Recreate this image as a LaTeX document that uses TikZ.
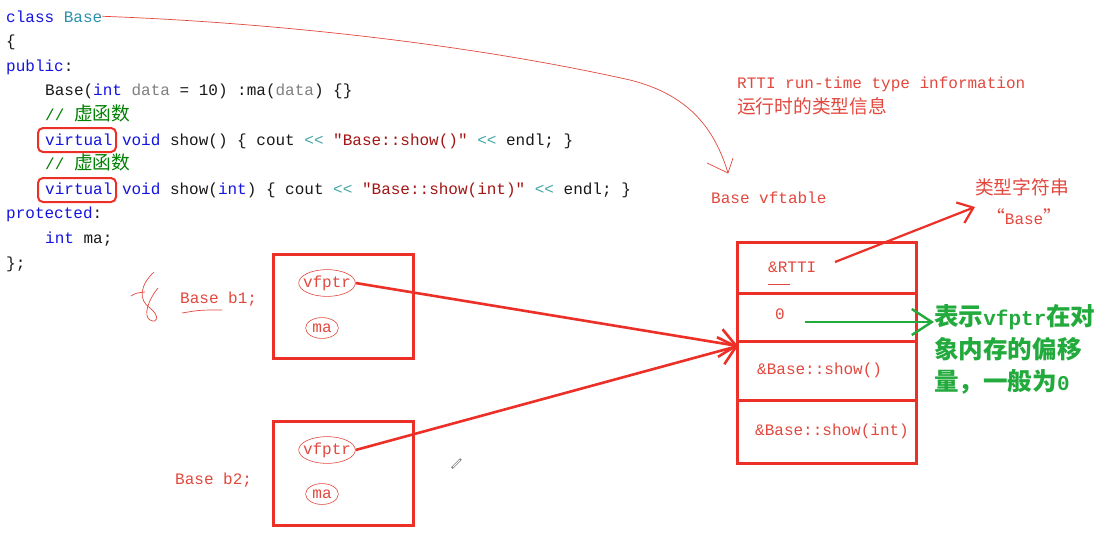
\documentclass[tikz,border=0pt]{standalone}
\usepackage{fontspec}
\setmonofont{Liberation Mono}
\newfontfamily\cjk[Scale=1.17]{Noto Sans CJK SC}
\usetikzlibrary{arrows.meta,shapes.geometric}
\definecolor{kwblue}{RGB}{20,20,225}
\definecolor{clsteal}{RGB}{43,145,175}
\definecolor{strred}{RGB}{163,21,21}
\definecolor{cmtgreen}{RGB}{0,128,0}
\definecolor{parmgray}{RGB}{128,128,128}
\definecolor{opteal}{RGB}{70,165,165}
\definecolor{codeblack}{RGB}{25,25,25}
\definecolor{handred}{RGB}{226,72,62}
\definecolor{boxred}{RGB}{236,48,40}
\definecolor{notegreen}{RGB}{34,170,60}
\newcommand\kw[1]{\textcolor{kwblue}{#1}}
\newcommand\st[1]{\textcolor{strred}{#1}}
\newcommand\op[1]{\textcolor{opteal}{#1}}
\newcommand\pg[1]{\textcolor{parmgray}{#1}}
\tikzset{
  code/.style={anchor=base west, inner sep=0pt, font=\fontsize{16}{19}\selectfont\ttfamily, text=codeblack},
  hand/.style={anchor=base west, inner sep=0pt, font=\fontsize{16}{19}\selectfont\ttfamily, text=handred},
  objbox/.style={draw=boxred, line width=3pt, minimum width=140pt, minimum height=104pt, inner sep=0pt},
  row/.style={draw=boxred, line width=3pt, minimum width=179pt, inner sep=0pt},
  oval/.style={ellipse, draw=handred, line width=0.6pt, inner xsep=-4pt, inner ysep=2pt, font=\fontsize{16}{19}\selectfont\ttfamily, text=handred},
  ptr/.style={draw=boxred, line width=2.6pt, -{Straight Barb[length=16pt,width=28pt,line width=2.6pt]}},
  thinhand/.style={draw=handred, line width=0.7pt},
  vbox/.style={draw=boxred, line width=2pt, rounded corners=5pt},
  note/.style={anchor=base west, inner sep=0pt, font=\fontsize{21}{24}\selectfont\ttfamily\bfseries, text=notegreen},
}
\begin{document}
\begin{tikzpicture}[x=1pt,y=-1pt]
\useasboundingbox (0,0) rectangle (1110,544);
\fill[white] (0,0) rectangle (1110,544);
% code
\node[code] (c0) at (6,22) {\kw{class} \textcolor{clsteal}{Base}};
\node[code] (c1) at (6,46.6) {\{};
\node[code] (c2) at (6,71.2) {\kw{public}:};
\node[code] (c3) at (45,95.8) {Base(\kw{int} \pg{data} = 10) :ma(\pg{data}) \{\}};
\node[code, text=cmtgreen] (c4) at (45,120.4) {// {\cjk 虚函数}};
\node[code] (c5) at (45,145) {\kw{virtual} \kw{void} show() \{ cout \op{<<} \st{"Base::show()"} \op{<<} endl; \}};
\node[code, text=cmtgreen] (c6) at (45,169.6) {// {\cjk 虚函数}};
\node[code] (c7) at (45,194.2) {\kw{virtual} \kw{void} show(\kw{int}) \{ cout \op{<<} \st{"Base::show(int)"} \op{<<} endl; \}};
\node[code] (c8) at (6,218.8) {\kw{protected}:};
\node[code] (c9) at (45,243.4) {\kw{int} ma;};
\node[code] (c10) at (6,268) {\};};
\draw[vbox] (38,128) rectangle (116,152);
\draw[vbox] (38,178) rectangle (116,202);
% annotations top right
\node[hand] (rtti) at (737,88) {RTTI run-time type information};
\node[hand] (rttic) at (737,113) {\cjk 运行时的类型信息};
\node[hand] (vftl) at (711,203) {Base vftable};
\node[hand] (tstr) at (975,194) {\cjk 类型字符串};
\node[hand] (tbase) at (986,224) {{\cjk “}Base{\cjk ”}};
% curved line from class Base
\coordinate (ctip) at (728,173);
\draw[thinhand] (c0.east) .. controls (260,22) and (460,42) .. (630,80) .. controls (690,95) and (715,130) .. (ctip);
\draw[thinhand] (707,163) -- (ctip) -- (733,158);
% objects
\node[objbox] (b1) at (343,306) {};
\node[oval] (p1) at (327,283) {vfptr};
\node[oval, inner xsep=2pt, inner ysep=3pt] (m1) at (322,328) {ma};
\node[hand] (lb1) at (180,303) {Base b1;};
\draw[thinhand] (182,313) .. controls (200,310) .. (222,310);
\draw[thinhand] (131,296) .. controls (136,293) .. (145,292);
\draw[thinhand] (154,272) .. controls (140,285) and (138,300) .. (150,308) .. controls (160,316) and (158,324) .. (150,320) .. controls (143,316) and (148,300) .. (158,288);
\node[objbox] (b2) at (343,473) {};
\node[oval] (p2) at (327,450) {vfptr};
\node[oval, inner xsep=2pt, inner ysep=3pt] (m2) at (322,494) {ma};
\node[hand] (lb2) at (175,484) {Base b2;};
% pencil mark
\draw[gray, line width=2.2pt] (452,468) -- (461,459);
\draw[white, line width=0.8pt] (453,467) -- (460,460);
% vftable
\node[row, minimum height=51pt] (r1) at (826.5,267.5) {};
\node[row, minimum height=48pt] (r2) at (826.5,317) {};
\node[row, minimum height=59pt] (r3) at (826.5,370.5) {};
\node[row, minimum height=63pt] (r4) at (826.5,431.5) {};
\node[hand] (t1) at (768,272) {\&RTTI};
\draw[thinhand] (768,284) -- (790,284);
\node[hand] (t2) at (775,319) {0};
\node[hand] (t3) at (757,374) {\&Base::show()};
\node[hand] (t4) at (755,435) {\&Base::show(int)};
% pointers
\coordinate (tgt) at (738,346);
\draw[ptr] (p1.east) -- (tgt);
\draw[ptr] (p2.east) -- (tgt);
\coordinate (rs) at (835,262);
\coordinate (re) at (975,207);
\draw[ptr, line width=2.2pt, -{Straight Barb[length=14pt,width=22pt,line width=2.2pt]}] (rs) -- (re);
% green note
\node[note] (g1) at (934,325) {{\cjk 表示}vfptr{\cjk 在对}};
\node[note] (g2) at (934,358) {\cjk 象内存的偏移};
\node[note] (g3) at (934,390) {{\cjk 量，一般为}0};
\coordinate (gs) at (805,322);
\draw[draw=notegreen, line width=2.4pt, -{Straight Barb[length=20pt,width=26pt,line width=2.4pt]}] (gs) -- (g1.west|-gs);
\end{tikzpicture}
\end{document}
